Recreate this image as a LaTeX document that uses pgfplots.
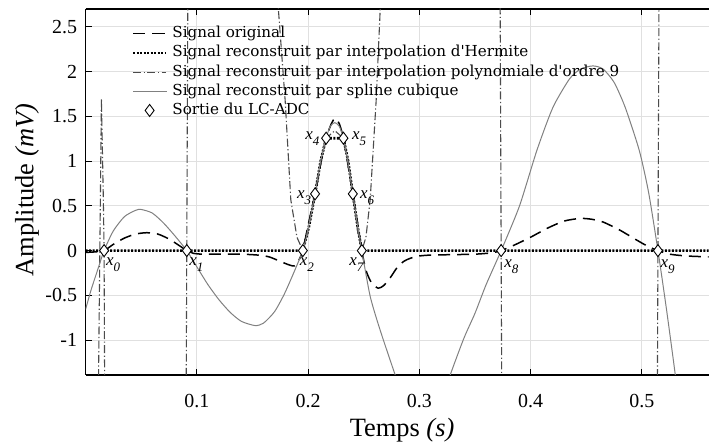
\documentclass[border=0pt]{standalone}
\usepackage{fontspec}
\setmainfont{Liberation Serif}
\newfontfamily\legfont{DejaVu Serif}
\usepackage{pgfplots}
\pgfplotsset{compat=1.18}
\definecolor{gridc}{RGB}{224,224,224}
\definecolor{polyc}{RGB}{75,75,75}
\definecolor{splc}{RGB}{128,128,128}
\newcommand{\xl}[1]{\textit{x}\raisebox{-6bp}{\fontsize{13}{13}\selectfont\textit{#1}}}
\begin{document}
\begin{tikzpicture}
\path[use as bounding box] (0,0) rectangle (710bp,443bp);
\begin{axis}[
  at={(85.5bp,68bp)}, anchor=south west,
  scale only axis, width=623.2bp, height=366bp,
  xmin=0, xmax=0.56, ymin=-1.39, ymax=2.7,
  axis x line*=box, axis y line*=left,
  axis line style={line width=1.1bp, black},
  xtick={0.1,0.2,0.3,0.4,0.5},
  ytick={-1,-0.5,0,0.5,1,1.5,2,2.5},
  yticklabels={-1,-0.5,0,0.5,1,1.5,2,2.5},
  major tick length=6bp,
  tick style={line width=0.9bp, black},
  grid=major, grid style={gridc, line width=0.9bp},
  ticklabel style={font=\fontsize{20}{24}\selectfont},
  /pgf/number format/assume math mode=true,
  xticklabel style={yshift=-16bp},
  yticklabel style={xshift=-5bp},
  xlabel={Temps \textit{(s)}},
  ylabel={Amplitude \textit{(mV)}},
  label style={font=\fontsize{26.5}{30}\selectfont},
  xlabel style={at={(axis description cs:0.508,-0.169)}, anchor=base},
  ylabel style={at={(axis description cs:-0.0838,0.505)}, anchor=base},
  legend style={at={(0.074,0.955)}, anchor=north west, draw=none, fill=none,
    inner sep=0pt, font=\legfont\fontsize{15.2}{18}\selectfont, row sep=3.2bp, column sep=5bp,
    nodes={inner sep=0pt, text height=12bp, text depth=4bp}},
  legend cell align=left,
  legend image code/.code={\draw[mark repeat=2,mark phase=2,#1] plot coordinates {(0bp,0bp) (16.5bp,0bp) (33bp,0bp)};},
]
% Original signal
\addplot[black, line width=1.5bp, dash pattern=on 12bp off 7bp, smooth, tension=0.4] coordinates {
(0,-0.02) (0.008,-0.015) (0.0167,0.0) (0.025,0.07) (0.035,0.14) (0.045,0.185) (0.055,0.2)
(0.065,0.185) (0.075,0.13) (0.085,0.05) (0.091,0.0) (0.097,-0.03) (0.105,-0.04) (0.12,-0.04)
(0.14,-0.04) (0.155,-0.05) (0.165,-0.07) (0.175,-0.12) (0.183,-0.16) (0.188,-0.17) (0.192,-0.1)
(0.1953,0) (0.2,0.28) (0.2063,0.634) (0.211,0.95) (0.2162,1.256) (0.221,1.42) (0.2243,1.48)
(0.228,1.42) (0.2318,1.256) (0.236,0.95) (0.2402,0.634) (0.2445,0.3) (0.2483,0) (0.252,-0.22)
(0.257,-0.36) (0.263,-0.42) (0.268,-0.39) (0.274,-0.3) (0.28,-0.19) (0.286,-0.12) (0.292,-0.085)
(0.30,-0.06) (0.31,-0.05) (0.33,-0.045) (0.35,-0.04) (0.365,-0.025) (0.3735,0) (0.385,0.06)
(0.4,0.15) (0.415,0.25) (0.43,0.33) (0.4445,0.36) (0.455,0.35) (0.465,0.32) (0.48,0.23)
(0.495,0.12) (0.505,0.05) (0.5144,0) (0.525,-0.04) (0.54,-0.06) (0.56,-0.07)};
\addlegendentry{Signal original}
% Hermite
\addplot[black, line width=2.6bp, dash pattern=on 2bp off 1.5bp] coordinates {
(0,0) (0.1953,0) (0.2008,0.27) (0.2063,0.634) (0.2113,1.0) (0.2162,1.256) (0.2318,1.256)
(0.236,1.0) (0.2402,0.634) (0.2445,0.27) (0.2483,0) (0.56,0)};
\addlegendentry{Signal reconstruit par interpolation d'Hermite}
% Polynomial order 9
\addplot[polyc, line width=1.1bp, dash pattern=on 8bp off 2.5bp on 1.2bp off 2.5bp] coordinates {
(0.0104,-3.0) (0.0143,1.7) (0.0160,0.6) (0.0167,0) (0.0177,-3) (0.0900,-3) (0.0910,0) (0.0920,3)
(0.1715,3) (0.1733,2.7) (0.1794,1.68) (0.1845,0.566) (0.190,0.15) (0.1953,0) (0.2,0.22)
(0.2063,0.634) (0.2113,1.0) (0.2162,1.256) (0.224,1.34) (0.2318,1.256) (0.2365,0.98)
(0.2402,0.634) (0.2445,0.22) (0.2483,0) (0.252,0.15) (0.2558,0.566) (0.2612,1.68) (0.2648,2.69)
(0.2665,3.1) (0.3725,3.1) (0.3735,0) (0.3745,-3) (0.5134,-3) (0.5144,0) (0.5154,3) (0.56,3)};
\addlegendentry{Signal reconstruit par interpolation polynomiale d'ordre 9}
% Cubic spline
\addplot[splc, line width=1bp, smooth, tension=0.4] coordinates {
(0,-0.66) (0.005,-0.44) (0.01,-0.25) (0.0167,0) (0.025,0.22) (0.035,0.38) (0.045,0.45) (0.05,0.46)
(0.06,0.42) (0.07,0.31) (0.08,0.17) (0.091,0) (0.1,-0.18) (0.11,-0.38) (0.12,-0.55) (0.13,-0.69)
(0.14,-0.79) (0.1524,-0.838) (0.16,-0.81) (0.17,-0.68) (0.18,-0.45) (0.1953,0) (0.2,0.25)
(0.2063,0.634) (0.211,0.98) (0.2162,1.256) (0.22,1.39) (0.224,1.43) (0.228,1.39) (0.2318,1.256)
(0.236,0.97) (0.2402,0.634) (0.2443,0.3) (0.2483,0) (0.2558,-0.51) (0.2648,-0.89) (0.2783,-1.39)
(0.29,-1.8) (0.303,-2.0) (0.315,-1.85) (0.3277,-1.39) (0.34,-0.98) (0.35,-0.7) (0.36,-0.38)
(0.3735,0) (0.39,0.5) (0.4056,1.12) (0.42,1.6) (0.435,1.92) (0.445,2.03) (0.456,2.064)
(0.465,2.03) (0.475,1.88) (0.485,1.6) (0.4976,1.12) (0.506,0.65) (0.5144,0) (0.522,-0.65)
(0.53,-1.39) (0.535,-1.9)};
\addlegendentry{Signal reconstruit par spline cubique}
% LC-ADC output
\addplot[only marks, mark=diamond*, mark size=6bp, mark options={fill=white, draw=black, line width=0.9bp}] coordinates {
(0.0167,0) (0.091,0) (0.1953,0) (0.2063,0.634) (0.2162,1.256) (0.2318,1.256) (0.2402,0.634)
(0.2483,0) (0.3735,0) (0.5144,0)};
\addlegendentry{Sortie du LC-ADC}
\tikzset{lab/.style={anchor=base west, inner sep=0pt, font=\fontsize{17}{17}\selectfont}}
\node[lab, xshift=1.8bp, yshift=-14.8bp] at (axis cs:0.0167,0) {\xl{0}};
\node[lab, xshift=2.4bp, yshift=-14.8bp] at (axis cs:0.091,0) {\xl{1}};
\node[lab, xshift=-3.2bp, yshift=-14.8bp] at (axis cs:0.1953,0) {\xl{2}};
\node[lab, xshift=-18.2bp, yshift=-4.8bp] at (axis cs:0.2063,0.634) {\xl{3}};
\node[lab, xshift=-20.9bp, yshift=-0.8bp] at (axis cs:0.2162,1.256) {\xl{4}};
\node[lab, xshift=8.5bp, yshift=-0.8bp] at (axis cs:0.2318,1.256) {\xl{5}};
\node[lab, xshift=7.1bp, yshift=-4.8bp] at (axis cs:0.2402,0.634) {\xl{6}};
\node[lab, xshift=-12.6bp, yshift=-14.8bp] at (axis cs:0.2483,0) {\xl{7}};
\node[lab, xshift=3.1bp, yshift=-16.4bp] at (axis cs:0.3735,0) {\xl{8}};
\node[lab, xshift=2.4bp, yshift=-16.4bp] at (axis cs:0.5144,0) {\xl{9}};
\end{axis}
\end{tikzpicture}
\end{document}
